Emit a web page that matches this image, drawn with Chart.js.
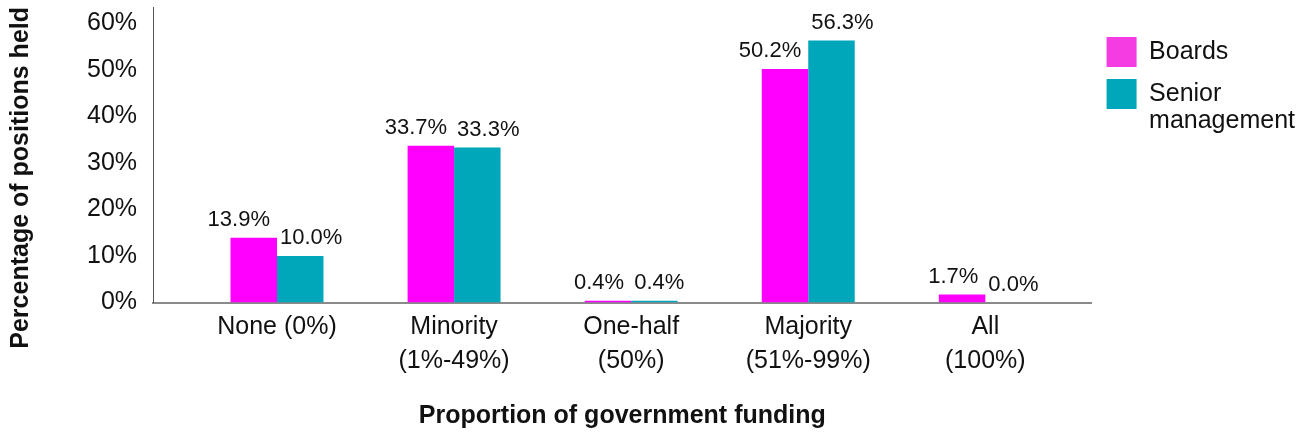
<!DOCTYPE html>
<html>
<head>
<meta charset="utf-8">
<script src="https://cdn.jsdelivr.net/npm/chart.js@4/dist/chart.umd.min.js"></script>
<style>
  html,body{margin:0;padding:0;background:#fff;}
  #wrap{width:1311px;height:440px;position:relative;}
</style>
</head>
<body>
<div id="wrap"><canvas id="chart"></canvas></div>
<script>
/* ====== DATA ====== */
const categories = [['None (0%)'], ['Minority', '(1%-49%)'], ['One-half', '(50%)'], ['Majority', '(51%-99%)'], ['All', '(100%)']];
const seriesNames = ['Boards', 'Senior management'];
const legendLines = [['Boards'], ['Senior', 'management']];
const boards = [13.9, 33.7, 0.4, 50.2, 1.7];
const senior = [10.0, 33.3, 0.4, 56.3, 0.0];
const yTickValues = [0, 10, 20, 30, 40, 50, 60];
const yTickLabels = ['0%', '10%', '20%', '30%', '40%', '50%', '60%'];

/* ====== STYLE ====== */
const BAR_COLORS = ['#ff00ff', '#00a7ba'];
const LEGEND_COLORS = ['#f53be2', '#00a7ba'];
const INK = '#111';
Chart.defaults.font.family = '"Liberation Sans", Arial, Helvetica, sans-serif';
Chart.defaults.color = INK;

const toPoints = arr => arr.map((v, i) => ({x: i, y: v}));

/* ====== value labels above bars ====== */
const barLabels = {
  id: 'barLabels',
  afterDatasetsDraw(chart){
    const ctx = chart.ctx;
    ctx.save();
    ctx.font = '22px "Liberation Sans", Arial, sans-serif';
    ctx.fillStyle = INK;
    ctx.textBaseline = 'alphabetic';
    chart.data.datasets.forEach((ds, di) => {
      chart.getDatasetMeta(di).data.forEach((bar, i) => {
        const half = bar.width / 2;
        const txt = ds.data[i].y.toFixed(1) + '%';
        if(di === 0){ ctx.textAlign = 'right'; ctx.fillText(txt, bar.x + half - 7, bar.y - 12); }
        else { ctx.textAlign = 'left'; ctx.fillText(txt, bar.x - half + 3, bar.y - 12); }
      });
    });
    ctx.restore();
  }
};

/* ====== CHART ====== */
new Chart(document.getElementById('chart'), {
  type: 'bar',
  data: {
    datasets: [
      {label: seriesNames[0], data: toPoints(boards), backgroundColor: BAR_COLORS[0], borderWidth: 0},
      {label: seriesNames[1], data: toPoints(senior), backgroundColor: BAR_COLORS[1], borderWidth: 0}
    ]
  },
  options: {
    responsive: true,
    maintainAspectRatio: false,
    animation: false,
    layout: {padding: {top: 7, right: 6, bottom: 0, left: 0}},
    categoryPercentage: 0.525,
    barPercentage: 1,
    plugins: {
      tooltip: {enabled: false},
      legend: {
        position: 'right',
        align: 'start',
        title: {display: true, text: ' ', font: {size: 10, lineHeight: 1}, padding: {top: 0, bottom: 5}},
        labels: {
          boxWidth: 30, boxHeight: 30, padding: 15, color: INK,
          font: {size: 25, lineHeight: 1.08},
          generateLabels(chart){
            const items = Chart.defaults.plugins.legend.labels.generateLabels(chart);
            items.forEach((it, i) => {
              it.text = legendLines[i];
              it.fillStyle = LEGEND_COLORS[i];
              it.strokeStyle = LEGEND_COLORS[i];
              it.lineWidth = 0;
            });
            return items;
          }
        }
      }
    },
    scales: {
      x: {
        type: 'linear',
        offset: false,
        min: -0.7,
        max: 4.6,
        grid: {display: false, drawTicks: false},
        border: {display: true, color: '#8a8a8a', width: 2},
        ticks: {
          stepSize: 1, includeBounds: false, autoSkip: false,
          maxRotation: 0, minRotation: 0, padding: 8,
          color: INK, font: {size: 25, lineHeight: 1.35},
          callback: v => categories[v] || ''
        },
        title: {
          display: true, text: 'Proportion of government funding', color: INK,
          font: {size: 25, weight: 'bold', lineHeight: 1.2},
          padding: {top: 15, bottom: 9}
        }
      },
      y: {
        min: 0,
        max: 63.5,
        grid: {display: false, drawTicks: false},
        border: {display: true, color: '#555', width: 1},
        ticks: {
          stepSize: 10, includeBounds: false, padding: 16,
          color: INK, font: {size: 25, lineHeight: 0.5},
          callback: v => yTickLabels[yTickValues.indexOf(v)] || ''
        },
        // the top label sits below the axis end, no extra room needed above it
        afterFit(scale){ scale.paddingTop = 0; scale.paddingBottom = 0; },
        title: {
          display: true, text: 'Percentage of positions held', color: INK, align: 'end',
          font: {size: 25, weight: 'bold', lineHeight: 1.2},
          padding: {top: 6, bottom: 35}
        }
      }
    }
  },
  plugins: [barLabels]
});
</script>
</body>
</html>
